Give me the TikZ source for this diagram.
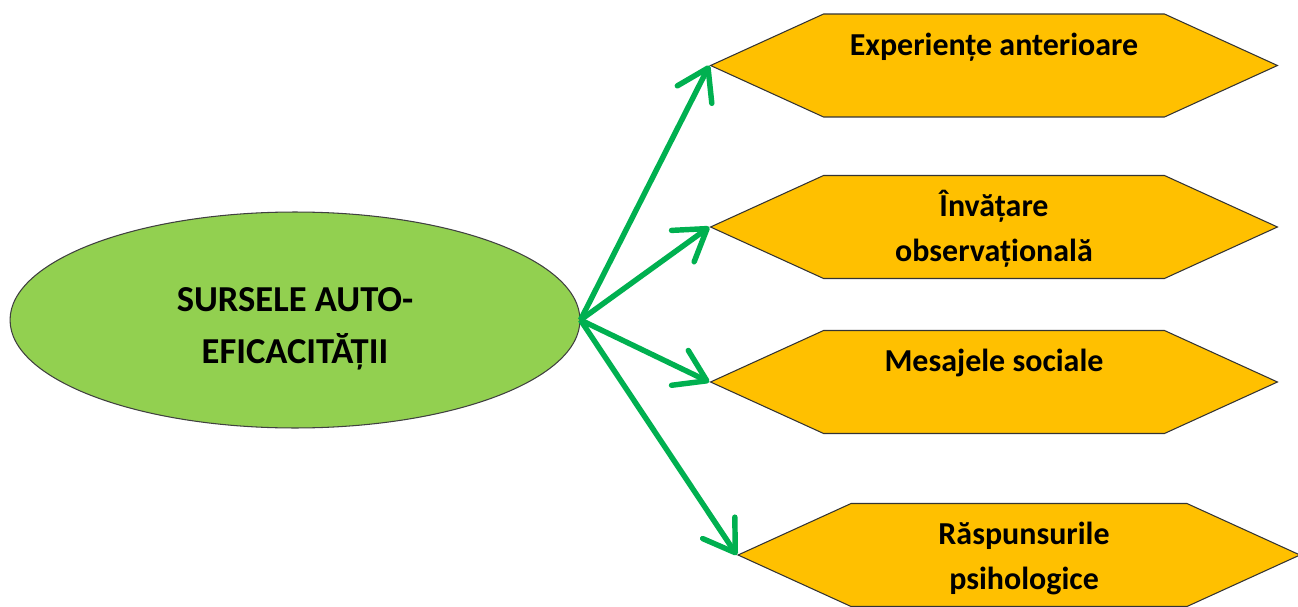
\documentclass[tikz,border=0pt]{standalone}
\usepackage{fontspec}
\setmainfont{Carlito}
\usetikzlibrary{positioning,shapes.geometric,shapes.symbols,arrows.meta}

\definecolor{sourcegreen}{HTML}{92D050}
\definecolor{hexgold}{HTML}{FFC000}
\definecolor{linkgreen}{HTML}{00B050}

\newcommand{\topstrut}{\rule{0pt}{18pt}}

\begin{document}
\begin{tikzpicture}[
    x=0.02cm,
    y=0.02cm,
    source/.style={ellipse, draw=black!75, line width=0.6pt, fill=sourcegreen,
        minimum width=11.4cm, minimum height=4.32cm, inner sep=0pt,
        align=center, font=\fontsize{20.8}{29.5}\selectfont\bfseries},
    hexa/.style={signal, signal to=east and west, signal pointer angle=49,
        draw=black!80, line width=0.6pt, fill=hexgold,
        minimum width=11.34cm, minimum height=2.06cm, inner sep=0pt},
    hextext/.style={align=center, inner sep=0pt,
        font=\fontsize{18.2}{25.5}\selectfont\bfseries},
    link/.style={draw=linkgreen, line width=3.1pt,
        -{Straight Barb[round, length=17pt, width=22pt]}}
]

% -------------------------------------------------------------------------
% Page
% -------------------------------------------------------------------------
\useasboundingbox (0,0) rectangle (1298,606);
\fill[ white ] (0,0) rectangle (1298,606);

% -------------------------------------------------------------------------
% Source
% -------------------------------------------------------------------------
\node[ source ] (source) at (295,286)
    {\rule{0pt}{24pt}SURSELE AUTO-\\EFICACITĂȚII};

% -------------------------------------------------------------------------
% Hexagons
% -------------------------------------------------------------------------
\node[ hexa ] (experiente) at ( 994,540.5) {};
\node[ hexa ] (invatare)   at ( 994,379)   {};
\node[ hexa ] (mesaje)     at ( 994,224)   {};
\node[ hexa, minimum width=11.24cm ] (raspunsuri) at (1019,51) {};

% -------------------------------------------------------------------------
% Hexagon texts (first line hangs from a fixed strut)
% -------------------------------------------------------------------------
\node[ hextext, below=0.2cm of experiente.north ] (experiente-text)
    {\topstrut Experiențe anterioare};
\node[ hextext, below=0.2cm of invatare.north ] (invatare-text)
    {\topstrut Învățare\\observațională};
\node[ hextext, below=0.2cm of mesaje.north ] (mesaje-text)
    {\topstrut Mesajele sociale};
\node[ hextext, below=0.2cm of raspunsuri.north, xshift=0.1cm ] (raspunsuri-text)
    {\topstrut Răspunsurile\\psihologice};

% -------------------------------------------------------------------------
% Links
% -------------------------------------------------------------------------
\foreach \target in {experiente,invatare,mesaje,raspunsuri}{
    \draw[ link ] (source.east) -- (\target.west);
}

\end{tikzpicture}
\end{document}
